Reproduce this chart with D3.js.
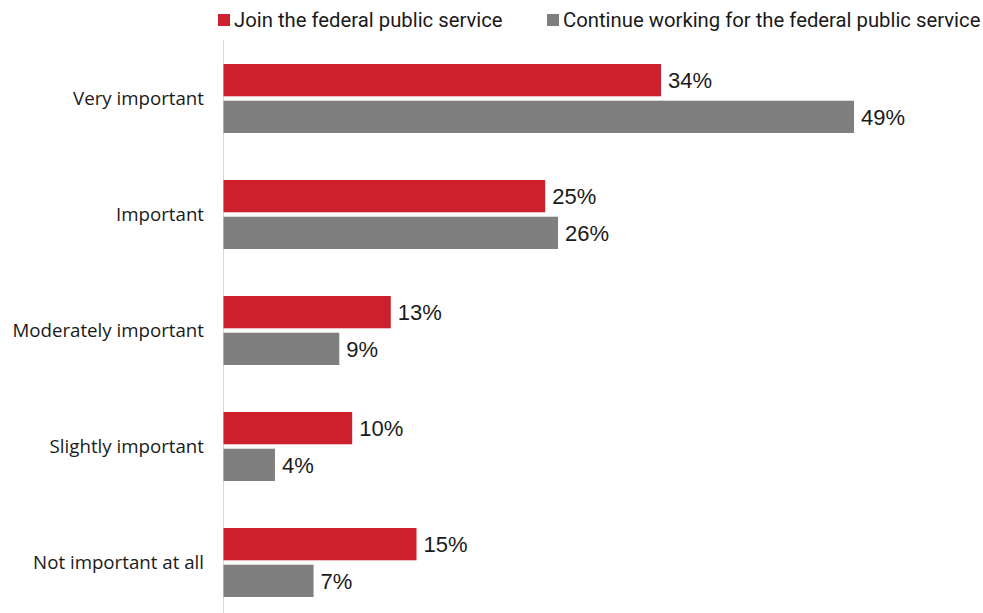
<!DOCTYPE html>
<html>
<head>
<meta charset="utf-8">
<script src="https://cdn.jsdelivr.net/npm/d3@7"></script>
<style>
  html, body { margin: 0; padding: 0; background: #fff; }
  svg { display: block; }
</style>
</head>
<body>
<svg id="chart" width="983" height="613"></svg>
<script>
// Importance ratings, in percent of respondents
const categories = ["Very important", "Important", "Moderately important", "Slightly important", "Not important at all"];
const seriesNames = ["Join the federal public service", "Continue working for the federal public service"];
const joinValues = [34, 25, 13, 10, 15];
const continueValues = [49, 26, 9, 4, 7];
const seriesColors = ["#cd1f2c", "#7f7f7f"];

const width = 983, height = 613;
const svg = d3.select("#chart");

const x0 = 223.5;
const x = d3.scaleLinear().domain([0, 49]).range([x0, 854]);

// Category bands, each holding one bar per series
const y = d3.scaleBand().domain(categories).range([40, 620]).paddingInner(0).paddingOuter(0);
const ySub = d3.scaleBand().domain([0, 1]).range([24, 93]).paddingInner(0.12);

const series = [joinValues, continueValues];

// Vertical baseline
svg.append("line")
  .attr("x1", x0).attr("x2", x0)
  .attr("y1", 40).attr("y2", height)
  .attr("stroke", "#d9d9d9").attr("stroke-width", 1);

const groups = svg.selectAll("g.cat")
  .data(categories)
  .join("g")
  .attr("class", "cat")
  .attr("transform", d => `translate(0,${y(d)})`);

groups.append("text")
  .attr("x", 204)
  .attr("y", (ySub(0) + ySub(1) + ySub.bandwidth()) / 2)
  .attr("dy", "0.33em")
  .attr("text-anchor", "end")
  .attr("font-family", "'Open Sans', 'Noto Sans', sans-serif")
  .attr("font-size", 18.7)
  .attr("fill", "#1a1a1a")
  .text(d => d);

series.forEach((vals, si) => {
  groups.append("rect")
    .attr("x", x(0))
    .attr("y", ySub(si))
    .attr("width", (d, i) => x(vals[i]) - x(0))
    .attr("height", ySub.bandwidth())
    .attr("fill", seriesColors[si]);

  groups.append("text")
    .attr("x", (d, i) => x(vals[i]) + 7)
    .attr("y", ySub(si) + ySub.bandwidth() / 2)
    .attr("dy", "0.36em")
    .attr("font-family", "'Liberation Sans', Arial, sans-serif")
    .attr("font-size", 22)
    .attr("fill", "#1a1a1a")
    .text((d, i) => vals[i] + "%");
});

// Legend
const legendX = [218, 547];
const legend = svg.selectAll("g.legend")
  .data(seriesNames)
  .join("g")
  .attr("class", "legend")
  .attr("transform", (d, i) => `translate(${legendX[i]},0)`);

legend.append("rect")
  .attr("x", 0).attr("y", 14)
  .attr("width", 12).attr("height", 12)
  .attr("fill", (d, i) => seriesColors[i]);

legend.append("text")
  .attr("x", 16)
  .attr("y", 26.5)
  .attr("font-family", "'Liberation Sans Narrow', 'Roboto', sans-serif")
  .attr("font-size", 20.3)
  .attr("fill", "#1a1a1a")
  .text(d => d);
</script>
</body>
</html>
